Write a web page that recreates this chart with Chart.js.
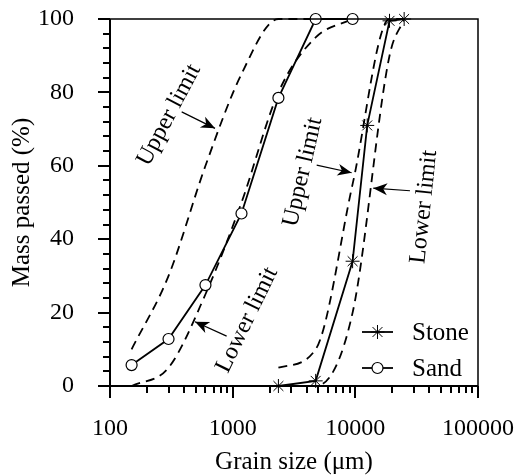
<!DOCTYPE html>
<html>
<head>
<meta charset="utf-8">
<script src="https://cdn.jsdelivr.net/npm/chart.js@4/dist/chart.umd.min.js"></script>
<style>
  html, body { margin: 0; padding: 0; background: #fff; }
</style>
</head>
<body>
<canvas id="c" width="518" height="475"></canvas>
<script>
// sieve sizes (µm) and mass passed (%)
const sandSize  = [150, 300, 600, 1180, 2360, 4750, 9500];
const sandPass  = [5.7, 12.8, 27.5, 47, 78.5, 100, 100];
const sandUpper = [10, 30, 60, 85, 100, 100, 100];
const sandLower = [0, 5, 25, 50, 80, 95, 100];

const stoneSize  = [2360, 4750, 9500, 12500, 19000, 25000];
const stonePass  = [0, 1.4, 34, 71, 99.5, 100];
const stoneLimSize = [2360, 4750, 9500, 19000, 25000];
const stoneUpper = [5, 10, 55, 100, 100];
const stoneLower = [0, 0, 20, 90, 100];

const xTickLabels = [100, 1000, 10000, 100000];
const yTickLabels = [0, 20, 40, 60, 80, 100];

const serif = "'Liberation Serif', 'Times New Roman', serif";

function pts(xs, ys){
  return xs.map((x,i)=>({x:x, y:ys[i]}));
}

// text labels and arrows, anchored in data coords
const notes = [
  {text:"Upper limit", x:303,   y:73.8, angle:-62},
  {text:"Lower limit", x:1310,  y:18,   angle:-64},
  {text:"Upper limit", x:3740,  y:58.3, angle:-77},
  {text:"Lower limit", x:36300, y:48.8, angle:-84}
];
const arrows = [
  {from:[384,74.7],   to:[718,70.2]},
  {from:[893,13.6],   to:[493,17.5]},
  {from:[4840,60.2],  to:[9330,58.1]},
  {from:[27900,53.2], to:[14000,53.9]}
];

const limitStyle = {borderColor:"#000", borderWidth:1.8, borderDash:[9,6], pointRadius:0,
  cubicInterpolationMode:"monotone", fill:false, clip:false};

const frame = {
  id:"frame",
  afterDraw(chart){
    const {ctx, chartArea:a, scales:{x, y}} = chart;
    ctx.save();
    ctx.strokeStyle = "#000";
    ctx.lineWidth = 1.5;
    ctx.beginPath();
    ctx.moveTo(a.left, a.top); ctx.lineTo(a.right, a.top); ctx.lineTo(a.right, a.bottom);
    ctx.stroke();
    ctx.lineWidth = 2;
    ctx.beginPath();
    ctx.moveTo(a.left, a.top); ctx.lineTo(a.left, a.bottom); ctx.lineTo(a.right, a.bottom);
    ctx.stroke();
    // x ticks, log minor
    ctx.beginPath();
    for(let d=100; d<=100000; d*=10){
      for(let m=1; m<10; m++){
        const v = d*m;
        if(v>100000) break;
        const px = Math.round(x.getPixelForValue(v));
        const len = m===1 ? 12 : 7;
        ctx.moveTo(px, a.bottom); ctx.lineTo(px, a.bottom+len);
      }
    }
    // y ticks
    for(let v=0; v<=100; v+=4){
      const py = Math.round(y.getPixelForValue(v));
      const len = v%20===0 ? 12 : 7;
      ctx.moveTo(a.left, py); ctx.lineTo(a.left-len, py);
    }
    ctx.stroke();
    ctx.restore();
  }
};

function arrowHead(ctx, x0, y0, x1, y1){
  const ang = Math.atan2(y1-y0, x1-x0);
  const L = 14, W = 6, N = 10;
  ctx.save();
  ctx.translate(x1, y1);
  ctx.rotate(ang);
  ctx.beginPath();
  ctx.moveTo(0, 0);
  ctx.lineTo(-L, -W);
  ctx.lineTo(-N, 0);
  ctx.lineTo(-L, W);
  ctx.closePath();
  ctx.fill();
  ctx.restore();
}

const notesPlugin = {
  id:"notes",
  afterDatasetsDraw(chart){
    const {ctx, scales:{x, y}} = chart;
    ctx.save();
    ctx.fillStyle = "#000";
    ctx.strokeStyle = "#000";
    ctx.font = "24px " + serif;
    ctx.textAlign = "center";
    ctx.textBaseline = "middle";
    notes.forEach(n=>{
      ctx.save();
      ctx.translate(x.getPixelForValue(n.x), y.getPixelForValue(n.y));
      ctx.rotate(n.angle*Math.PI/180);
      ctx.fillText(n.text, 0, 0);
      ctx.restore();
    });
    ctx.lineWidth = 1.2;
    arrows.forEach(ar=>{
      const x0 = x.getPixelForValue(ar.from[0]), y0 = y.getPixelForValue(ar.from[1]);
      const x1 = x.getPixelForValue(ar.to[0]),   y1 = y.getPixelForValue(ar.to[1]);
      ctx.beginPath(); ctx.moveTo(x0, y0); ctx.lineTo(x1, y1); ctx.stroke();
      arrowHead(ctx, x0, y0, x1, y1);
    });
    ctx.restore();
  }
};

// legend inside the plot, bottom right
const legendPlugin = {
  id:"boxLegend",
  afterDraw(chart){
    const {ctx, chartArea:a} = chart;
    const items = [chart.data.datasets[0], chart.data.datasets[1]];
    const rows = [a.bottom-54, a.bottom-18];
    ctx.save();
    items.forEach((ds, i)=>{
      const yy = rows[i];
      const x0 = a.right-116, x1 = a.right-85;
      ctx.strokeStyle = ds.borderColor;
      ctx.lineWidth = ds.borderWidth;
      ctx.beginPath(); ctx.moveTo(x0, yy); ctx.lineTo(x1, yy); ctx.stroke();
      ctx.fillStyle = ds.pointBackgroundColor;
      ctx.strokeStyle = ds.pointBorderColor;
      ctx.lineWidth = ds.pointBorderWidth;
      Chart.helpers.drawPoint(ctx, {pointStyle:ds.pointStyle, radius:ds.pointRadius, rotation:0,
        borderWidth:ds.pointBorderWidth}, (x0+x1)/2, yy);
      ctx.fillStyle = "#000";
      ctx.font = "25px " + serif;
      ctx.textAlign = "left";
      ctx.textBaseline = "middle";
      ctx.fillText(ds.label, a.right-66, yy+1);
    });
    ctx.restore();
  }
};

new Chart(document.getElementById("c"), {
  type:"line",
  data:{
    datasets:[
      {label:"Stone", data:pts(stoneSize, stonePass), borderColor:"#000", borderWidth:1.8,
        pointStyle:"star", pointRadius:7, pointBorderColor:"#000", pointBackgroundColor:"#fff",
        pointBorderWidth:1, fill:false, clip:false, tension:0},
      {label:"Sand", data:pts(sandSize, sandPass), borderColor:"#000", borderWidth:1.8,
        pointStyle:"circle", pointRadius:5.5, pointBorderColor:"#000", pointBackgroundColor:"#fff",
        pointBorderWidth:1.2, fill:false, clip:false, tension:0},
      Object.assign({label:"Sand upper", data:pts(sandSize, sandUpper)}, limitStyle),
      Object.assign({label:"Sand lower", data:pts(sandSize, sandLower)}, limitStyle),
      Object.assign({label:"Stone upper", data:pts(stoneLimSize, stoneUpper)}, limitStyle),
      Object.assign({label:"Stone lower", data:pts(stoneLimSize, stoneLower)}, limitStyle)
    ]
  },
  options:{
    responsive:false,
    animation:false,
    events:[],
    layout:{padding:{top:19, right:40, left:0, bottom:0}},
    plugins:{legend:{display:false}, tooltip:{enabled:false}},
    scales:{
      x:{
        type:"logarithmic", min:100, max:100000,
        afterBuildTicks:s=>{ s.ticks = xTickLabels.map(v=>({value:v})); },
        afterFit:s=>{ s.height = 89; s.paddingLeft = 0; s.paddingRight = 0; },
        grid:{display:false}, border:{display:false},
        ticks:{callback:v=>String(v), color:"#000", font:{family:serif, size:24}, padding:20,
          maxRotation:0, autoSkip:false},
        title:{display:true, text:"Grain size (\u03bcm)", color:"#000",
          font:{family:serif, size:25, lineHeight:1}, padding:{top:0, bottom:0}}
      },
      y:{
        min:0, max:100,
        afterBuildTicks:s=>{ s.ticks = yTickLabels.map(v=>({value:v})); },
        afterFit:s=>{ s.width = 110; s.paddingTop = 0; s.paddingBottom = 0; },
        grid:{display:false}, border:{display:false},
        ticks:{color:"#000", font:{family:serif, size:24}, padding:28},
        title:{display:true, text:"Mass passed (%)", color:"#000",
          font:{family:serif, size:25, lineHeight:1}, padding:{top:10, bottom:0}}
      }
    }
  },
  plugins:[frame, notesPlugin, legendPlugin]
});
</script>
</body>
</html>
